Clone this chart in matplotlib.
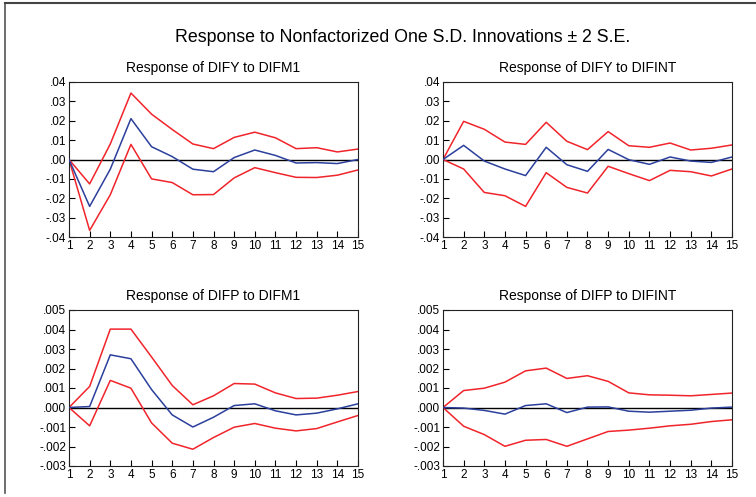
import matplotlib
matplotlib.use("Agg")
import matplotlib.pyplot as plt
from matplotlib.lines import Line2D
from matplotlib.ticker import FuncFormatter

periods = list(range(1, 16))

# Response of DIFY to DIFM1
dify_m1 = [0, -0.0242, -0.0050, 0.0211, 0.0066, 0.0015, -0.0050, -0.0063, 0.0010, 0.0049, 0.0021, -0.0018, -0.0016, -0.0021, 0.0000]
dify_m1_up = [0, -0.0126, 0.0080, 0.0343, 0.0234, 0.0155, 0.0080, 0.0056, 0.0114, 0.0141, 0.0112, 0.0056, 0.0061, 0.0039, 0.0054]
dify_m1_lo = [0, -0.0366, -0.0182, 0.0078, -0.0100, -0.0119, -0.0182, -0.0181, -0.0095, -0.0042, -0.0068, -0.0092, -0.0093, -0.0081, -0.0054]

# Response of DIFY to DIFINT
dify_int = [0, 0.0073, -0.0008, -0.0049, -0.0083, 0.0063, -0.0027, -0.0061, 0.0052, -0.0001, -0.0025, 0.0013, -0.0008, -0.0015, 0.0013]
dify_int_up = [0, 0.0197, 0.0156, 0.0090, 0.0078, 0.0192, 0.0094, 0.0051, 0.0144, 0.0071, 0.0063, 0.0085, 0.0049, 0.0058, 0.0075]
dify_int_lo = [0, -0.0049, -0.0170, -0.0187, -0.0242, -0.0068, -0.0144, -0.0173, -0.0035, -0.0073, -0.0109, -0.0056, -0.0063, -0.0085, -0.0049]

# Response of DIFP to DIFM1
difp_m1 = [0, 0.00005, 0.00270, 0.00250, 0.00092, -0.00038, -0.00100, -0.00050, 0.00010, 0.00019, -0.00017, -0.00038, -0.00029, -0.00007, 0.00019]
difp_m1_up = [0, 0.00108, 0.00402, 0.00402, 0.00259, 0.00113, 0.00014, 0.00060, 0.00123, 0.00120, 0.00075, 0.00046, 0.00048, 0.00063, 0.00082]
difp_m1_lo = [0, -0.00094, 0.00139, 0.00099, -0.00079, -0.00183, -0.00214, -0.00154, -0.00101, -0.00082, -0.00106, -0.00120, -0.00108, -0.00074, -0.00041]

# Response of DIFP to DIFINT
difp_int = [0, -0.00003, -0.00015, -0.00034, 0.00010, 0.00019, -0.00026, 0.00002, 0.00003, -0.00019, -0.00024, -0.00019, -0.00014, -0.00003, 0.00002]
difp_int_up = [0, 0.00087, 0.00099, 0.00130, 0.00188, 0.00202, 0.00149, 0.00163, 0.00134, 0.00075, 0.00065, 0.00063, 0.00060, 0.00067, 0.00074]
difp_int_lo = [0, -0.00096, -0.00139, -0.00199, -0.00168, -0.00164, -0.00199, -0.00161, -0.00123, -0.00116, -0.00106, -0.00094, -0.00086, -0.00072, -0.00063]

titles = ["Response of DIFY to DIFM1", "Response of DIFY to DIFINT",
          "Response of DIFP to DIFM1", "Response of DIFP to DIFINT"]
main_title = "Response to Nonfactorized One S.D. Innovations \u00b1 2 S.E."

yticks_y = [-0.04, -0.03, -0.02, -0.01, 0.0, 0.01, 0.02, 0.03, 0.04]
yticks_p = [-0.003, -0.002, -0.001, 0.0, 0.001, 0.002, 0.003, 0.004, 0.005]

plt.rcParams['font.family'] = ['Liberation Sans', 'DejaVu Sans']

RED = '#f0242b'
BLUE = '#2b3f9c'

fig = plt.figure(figsize=(7.56, 4.97), dpi=100)
W, H = 756, 497

def ax_rect(l, r, t, b):
    return [l / W, 1 - b / H, (r - l) / W, (b - t) / H]

rects = [ax_rect(69, 358, 82, 237), ax_rect(443, 732, 82, 237),
         ax_rect(69, 358, 310, 466), ax_rect(443, 732, 310, 466)]

panels = [
    (dify_m1, dify_m1_up, dify_m1_lo, yticks_y, 2),
    (dify_int, dify_int_up, dify_int_lo, yticks_y, 2),
    (difp_m1, difp_m1_up, difp_m1_lo, yticks_p, 3),
    (difp_int, difp_int_up, difp_int_lo, yticks_p, 3),
]

def make_fmt(dec):
    def f(v, pos):
        s = f"{v:.{dec}f}"
        if s.startswith("-0."):
            s = "-." + s[3:]
        elif s.startswith("0."):
            s = "." + s[2:]
        return s
    return FuncFormatter(f)

for rect, title, (mid, up, lo, yt, dec) in zip(rects, titles, panels):
    ax = fig.add_axes(rect)
    ax.axhline(0, color='black', lw=1.0, zorder=1)
    ax.plot(periods, up, color=RED, lw=1.1, zorder=2)
    ax.plot(periods, lo, color=RED, lw=1.1, zorder=2)
    ax.plot(periods, mid, color=BLUE, lw=1.1, zorder=3)
    ax.set_xlim(1, 15)
    ax.set_ylim(yt[0], yt[-1])
    ax.set_xticks(periods)
    ax.set_yticks(yt)
    ax.yaxis.set_major_formatter(make_fmt(dec))
    ax.tick_params(direction='in', length=4, width=0.8, labelsize=8.5, pad=2)
    ax.tick_params(axis='x', pad=2)
    for sp in ax.spines.values():
        sp.set_linewidth(0.8)
        sp.set_color('#222222')
    ax.set_title(title, fontsize=10, pad=7)

fig.text(403 / W, 1 - 38 / H, main_title, ha='center', va='center', fontsize=12.8)

fig.add_artist(Line2D([5 / W, 5 / W], [1 - 493 / H, 1 - 3 / H], transform=fig.transFigure,
                      color='#555555', lw=1.2))
fig.add_artist(Line2D([5 / W, 1.0], [1 - 3 / H, 1 - 3 / H], transform=fig.transFigure,
                      color='#444444', lw=1.5))

fig.savefig("out.png", dpi=100)
